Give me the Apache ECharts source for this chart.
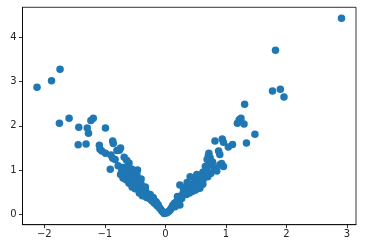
<!DOCTYPE html>
<html><head><meta charset="utf-8">
<script src="https://cdn.jsdelivr.net/npm/echarts@6/dist/echarts.min.js"></script>
<style>html,body{margin:0;padding:0;background:#fff}#c{width:368px;height:247px}</style>
</head><body><div id="c"></div>
<script>
const xTicks = [-2, -1, 0, 1, 2, 3];
const xTickLabels = ['\u22122', '\u22121', '0', '1', '2', '3'];
const yTicks = [0, 1, 2, 3, 4];
const yTickLabels = ['0', '1', '2', '3', '4'];

const leftPoints = [
[-2.12,2.87],[-1.88,3.02],[-1.74,3.28],[-1.75,2.06],[-1.59,2.17],[-1.43,1.97],[-1.29,1.95],[-1.27,1.83],[-1.23,2.12],[-1.19,2.17],[-0.99,1.95],[-1.44,1.57],[-1.31,1.59],[-1.09,1.56],[-1.08,1.47],[-1.05,1.43],[-0.99,1.38],[-0.87,1.66],[-0.86,1.60],[-0.74,1.50],[-0.90,1.34],[-0.87,1.27],[-0.83,1.24],[-0.80,1.44],[-0.76,1.45],[-0.68,1.29],[-0.64,1.22],[-0.60,1.16],[-0.91,1.02],[-0.78,1.10],[-0.70,1.06],[-0.61,1.10],[-0.46,1.00],[-0.55,1.02],[-0.74,0.90],[-0.67,0.92],[-0.70,0.82],[-0.63,0.85],[-0.58,0.95],[-0.52,0.88],[-0.48,0.80],[-0.56,0.75],[-0.60,0.70],[-0.53,0.66],[-0.47,0.63],[-0.42,0.75],[-0.40,0.68],[-0.44,0.55],[-0.38,0.60],[-0.36,0.50],[-0.33,0.55],[-0.30,0.47],[-0.34,0.42],[-0.28,0.40],[-0.26,0.35],[-0.25,0.45],[-0.22,0.30],[-0.20,0.38],[-0.18,0.25],[-0.15,0.28],[-0.14,0.20],[-0.12,0.22],[-0.10,0.15],[-0.08,0.12],[-0.06,0.08],[-0.04,0.05],[-0.02,0.02],[-0.50,0.72],[-0.45,0.70],[-0.65,0.78],[-0.57,0.82],[-0.41,0.58],[-0.31,0.38],[-0.23,0.34],[-0.17,0.30],[-0.11,0.17],[-0.35,0.48],[-0.72,0.98],[-0.62,1.04],
[-0.55,0.62],[-0.50,0.58],[-0.43,0.48],[-0.38,0.42],[-0.65,0.88],[-0.58,0.78],[-0.52,0.75],[-0.47,0.90],[-0.40,0.80],[-0.33,0.62]
];
const rightPoints = [
[2.91,4.43],[1.82,3.71],[1.77,2.79],[1.90,2.83],[1.96,2.65],[1.31,2.49],[1.22,2.14],[1.25,2.17],[1.19,2.06],[1.30,2.04],[1.48,1.81],[1.34,1.61],[0.94,1.70],[0.96,1.63],[1.11,1.58],[1.04,1.52],[0.82,1.66],[0.88,1.43],[0.90,1.35],[0.72,1.38],[0.71,1.32],[0.74,1.28],[0.69,1.24],[0.93,1.15],[0.96,1.08],[0.78,1.18],[0.72,1.12],[0.66,1.08],[0.80,1.05],[0.85,0.98],[0.75,0.92],[0.62,0.95],[0.66,0.88],[0.58,0.85],[0.55,0.78],[0.60,0.72],[0.50,0.80],[0.47,0.70],[0.52,0.65],[0.44,0.62],[0.40,0.68],[0.38,0.56],[0.41,0.85],[0.35,0.59],[0.33,0.50],[0.30,0.52],[0.28,0.44],[0.24,0.66],[0.25,0.38],[0.22,0.32],[0.20,0.40],[0.18,0.28],[0.15,0.25],[0.14,0.18],[0.12,0.20],[0.10,0.14],[0.08,0.10],[0.06,0.07],[0.04,0.05],[0.02,0.03],[0.57,0.59],[0.45,0.52],[0.35,0.45],[0.27,0.36],[0.68,1.00],[0.63,0.80],[0.48,0.58],[0.90,1.12],[0.24,0.21],[0.16,0.17],
[0.40,0.48],[0.50,0.55],[0.55,0.68],[0.30,0.60],[0.36,0.72],[0.62,0.68],[0.70,0.85],[0.52,0.90]
];

const chart = echarts.init(document.getElementById('c'), null, {renderer: 'canvas'});
const axisCommon = {
  axisLine: {show: true, onZero: false, lineStyle: {color: '#000', width: 0.8}},
  axisTick: {show: true, length: 3.5, lineStyle: {color: '#000', width: 0.8}},
  splitLine: {show: false},
  axisLabel: {color: '#262626', fontFamily: 'DejaVu Sans', fontSize: 10}
};
chart.setOption({
  animation: false,
  grid: {left: 22.5, right: 12, top: 7.3, bottom: 22.3, show: true, borderColor: '#000', borderWidth: 0.8, containLabel: false},
  xAxis: Object.assign({}, axisCommon, {
    type: 'value', min: -2.36, max: 3.15,
    axisTick: Object.assign({}, axisCommon.axisTick, {customValues: xTicks}),
    axisLabel: Object.assign({}, axisCommon.axisLabel, {customValues: xTicks, margin: 5,
      formatter: v => xTickLabels[xTicks.indexOf(Math.round(v))]})
  }),
  yAxis: Object.assign({}, axisCommon, {
    type: 'value', min: -0.235, max: 4.68,
    axisTick: Object.assign({}, axisCommon.axisTick, {customValues: yTicks}),
    axisLabel: Object.assign({}, axisCommon.axisLabel, {customValues: yTicks, margin: 6,
      formatter: v => yTickLabels[yTicks.indexOf(Math.round(v))]})
  }),
  series: [{
    type: 'scatter', symbolSize: 7.5,
    itemStyle: {color: '#1f77b4', opacity: 1},
    data: leftPoints.concat(rightPoints)
  }]
});
</script></body></html>
